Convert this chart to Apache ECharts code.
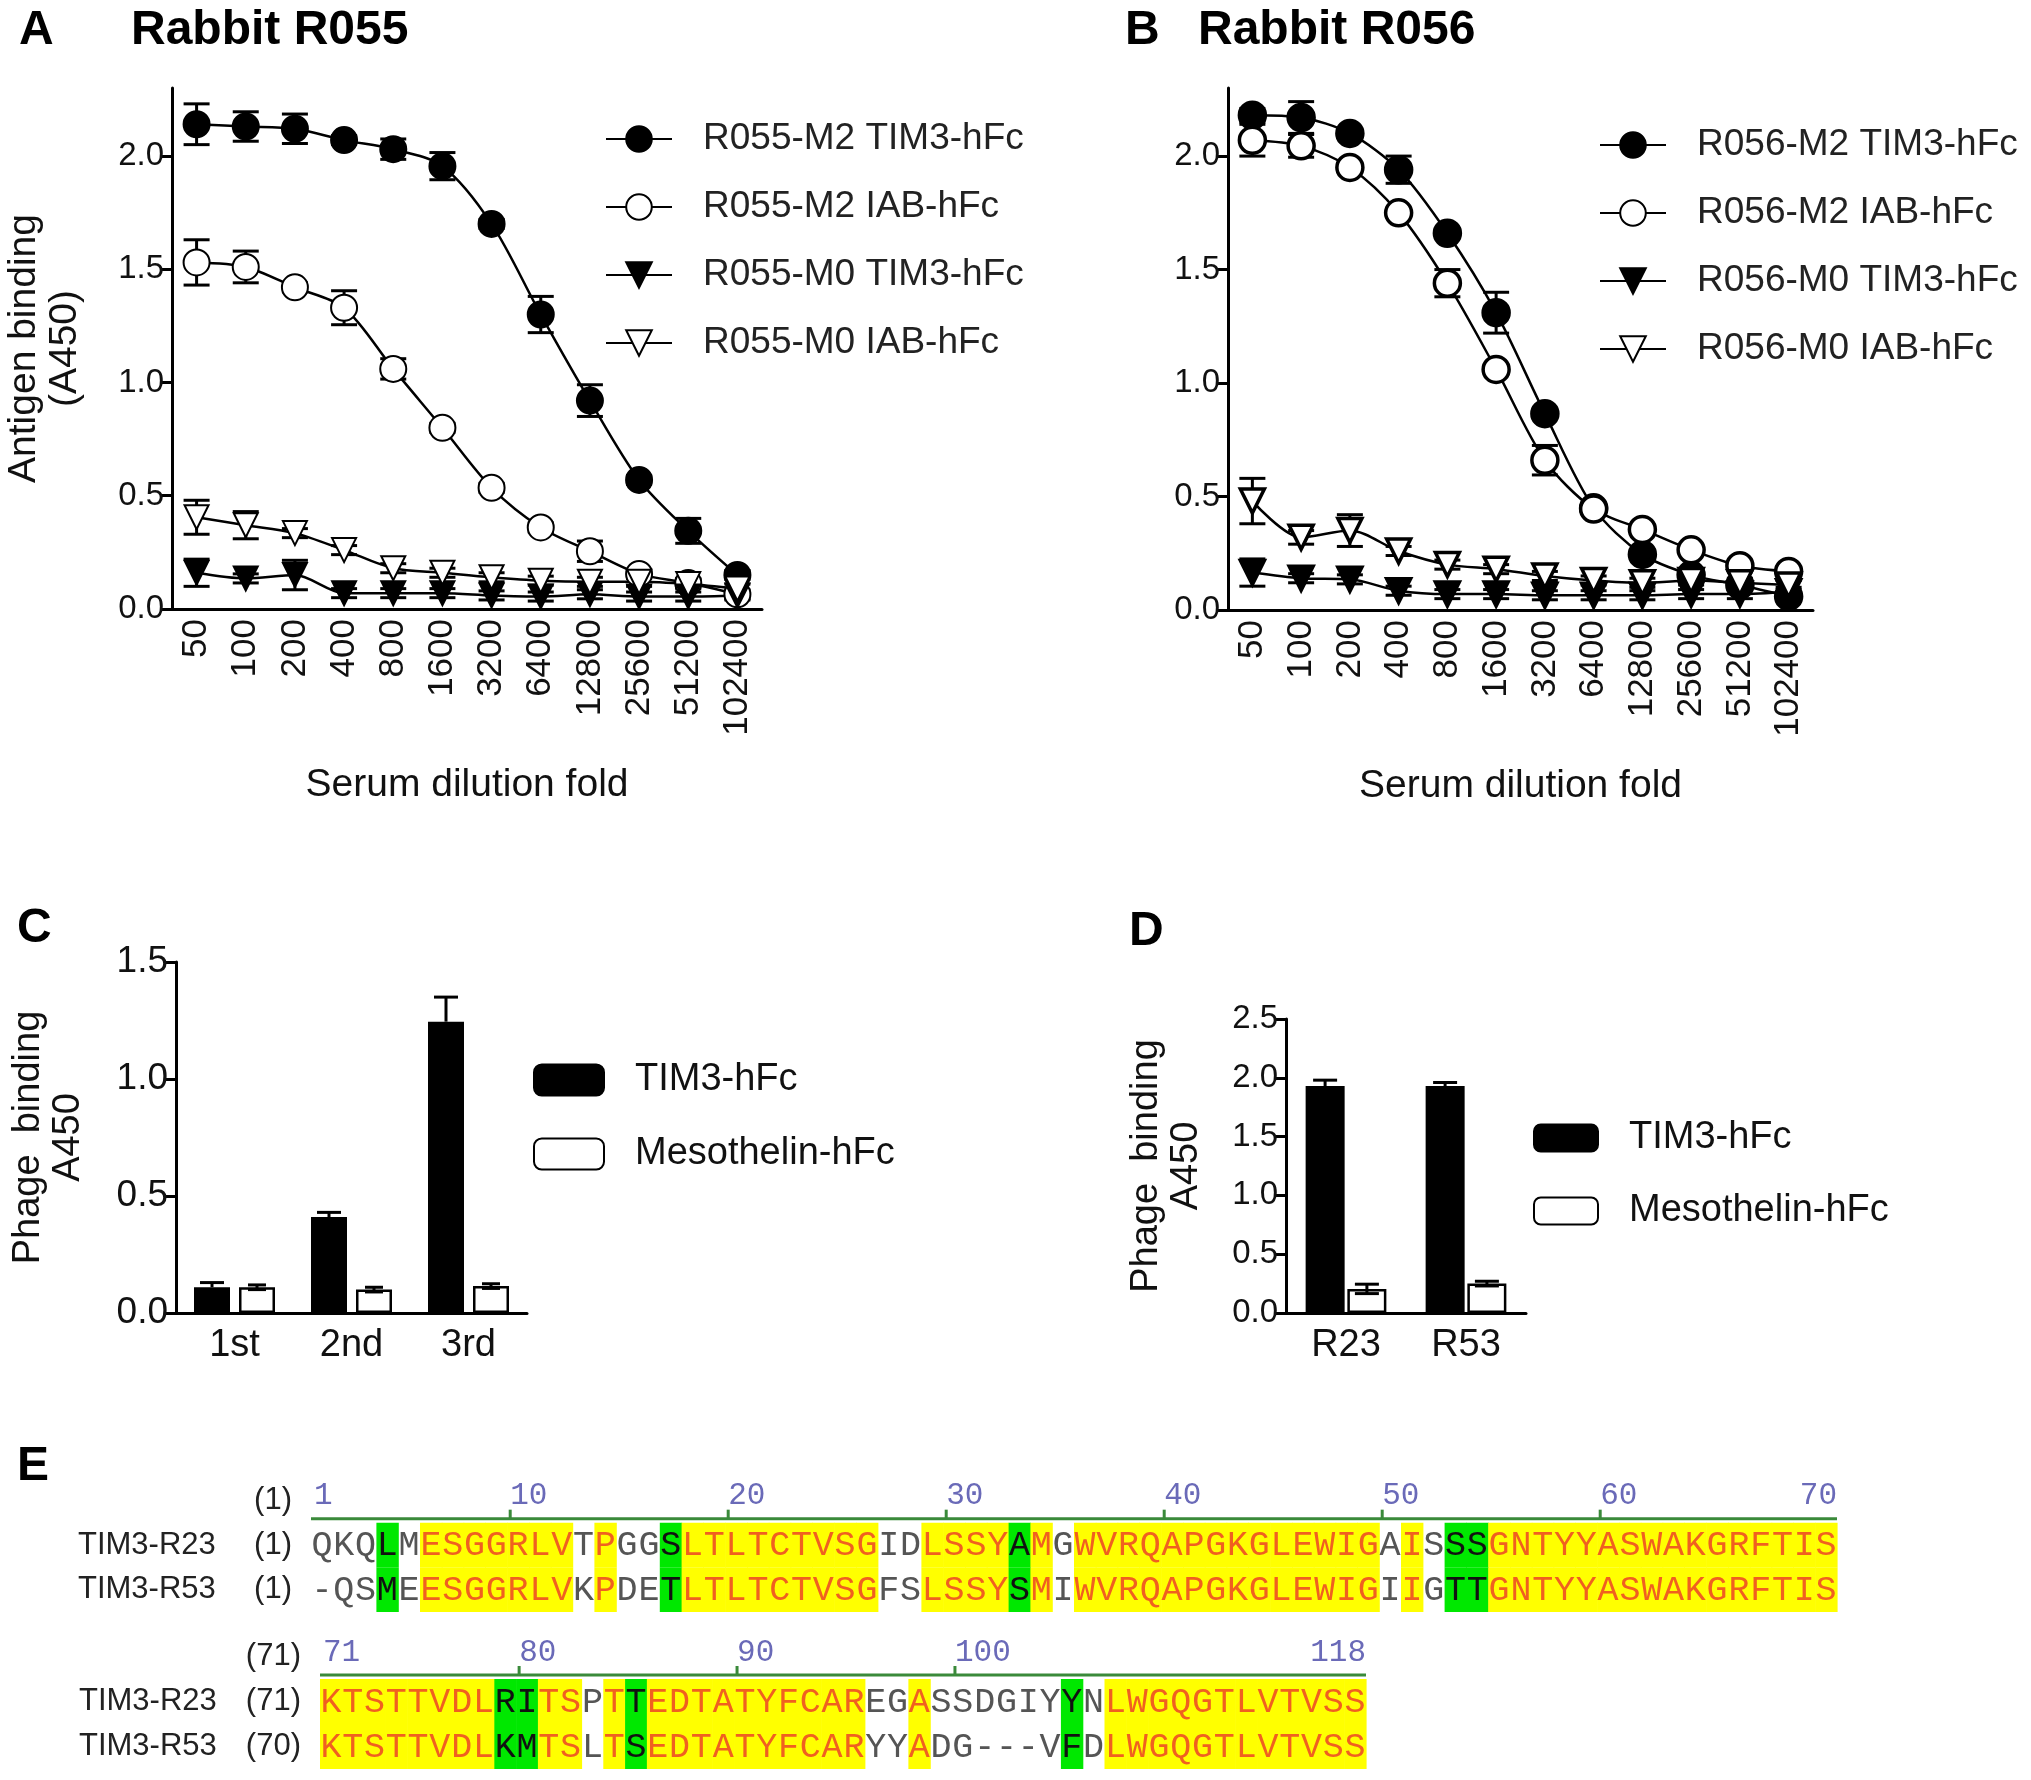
<!DOCTYPE html>
<html>
<head>
<meta charset="utf-8">
<script src="https://cdn.jsdelivr.net/npm/echarts@6/dist/echarts.min.js"></script>
<style>
  html, body { margin: 0; padding: 0; background: #fff; }
  #main { width: 2031px; height: 1780px; }
</style>
</head>
<body>
<div id="main"></div>
<script>
// dilution series (panels A, B)
var dilutions = ['50', '100', '200', '400', '800', '1600', '3200', '6400', '12800', '25600', '51200', '102400'];

var r055M2Tim3 = [2.14, 2.13, 2.12, 2.07, 2.03, 1.955, 1.70, 1.30, 0.92, 0.57, 0.345, 0.15];
var r055M2Tim3Err = [0.09, 0.065, 0.065, 0.02, 0.045, 0.06, 0.02, 0.08, 0.07, 0.02, 0.055, 0.02];
var r055M2Iab = [1.53, 1.51, 1.42, 1.33, 1.06, 0.80, 0.535, 0.36, 0.255, 0.155, 0.115, 0.065];
var r055M2IabErr = [0.1, 0.07, 0.02, 0.075, 0.045, 0.02, 0.02, 0.02, 0.045, 0.02, 0.02, 0.02];
var r055M0Tim3 = [0.16, 0.135, 0.15, 0.07, 0.07, 0.07, 0.06, 0.055, 0.065, 0.055, 0.055, 0.06];
var r055M0Tim3Err = [0.06, 0.02, 0.065, 0.02, 0.02, 0.02, 0.02, 0.02, 0.02, 0.02, 0.02, 0.02];
var r055M0Iab = [0.405, 0.37, 0.335, 0.26, 0.18, 0.16, 0.14, 0.125, 0.12, 0.12, 0.11, 0.09];
var r055M0IabErr = [0.075, 0.06, 0.02, 0.02, 0.02, 0.02, 0.02, 0.02, 0.02, 0.02, 0.02, 0.02];

var r056M2Tim3 = [2.18, 2.17, 2.10, 1.94, 1.66, 1.31, 0.865, 0.45, 0.245, 0.155, 0.11, 0.06];
var r056M2Tim3Err = [0.03, 0.07, 0.02, 0.06, 0.02, 0.09, 0.02, 0.02, 0.02, 0.02, 0.02, 0.02];
var r056M2Iab = [2.07, 2.045, 1.95, 1.75, 1.44, 1.06, 0.66, 0.445, 0.355, 0.265, 0.195, 0.17];
var r056M2IabErr = [0.07, 0.05, 0.02, 0.02, 0.06, 0.02, 0.065, 0.02, 0.02, 0.02, 0.02, 0.02];
var r056M0Tim3 = [0.165, 0.14, 0.135, 0.085, 0.07, 0.07, 0.065, 0.065, 0.065, 0.07, 0.07, 0.08];
var r056M0Tim3Err = [0.06, 0.02, 0.02, 0.02, 0.02, 0.02, 0.02, 0.02, 0.02, 0.02, 0.02, 0.02];
var r056M0Iab = [0.48, 0.32, 0.35, 0.26, 0.2, 0.18, 0.15, 0.13, 0.12, 0.13, 0.12, 0.11];
var r056M0IabErr = [0.1, 0.03, 0.07, 0.02, 0.02, 0.02, 0.02, 0.02, 0.02, 0.02, 0.02, 0.02];

// phage ELISA (panels C, D)
var rounds = ['1st', '2nd', '3rd'];
var roundTim3 = [0.11, 0.41, 1.245];
var roundTim3Err = [0.02, 0.02, 0.105];
var roundMeso = [0.11, 0.10, 0.115];
var roundMesoErr = [0.01, 0.01, 0.01];

var clones = ['R23', 'R53'];
var cloneTim3 = [1.93, 1.93];
var cloneTim3Err = [0.05, 0.03];
var cloneMeso = [0.205, 0.25];
var cloneMesoErr = [0.04, 0.02];

// alignment (panel E): i = identical, s = similar, n = none
var block1Names = ['TIM3-R23', 'TIM3-R53'];
var block1Starts = ['(1)', '(1)'];
var block1Seqs = [
  'QKQLMESGGRLVTPGGSLTLTCTVSGIDLSSYAMGWVRQAPGKGLEWIGAISSSGNTYYASWAKGRFTIS',
  '-QSMEESGGRLVKPDETLTLTCTVSGFSLSSYSMIWVRQAPGKGLEWIGIIGTTGNTYYASWAKGRFTIS'
];
var block1Class = ['nnnsn', 'iiiiiii', 'n', 'i', 'nn', 's', 'iiiiiiiii', 'nn', 'iiii', 's', 'i', 'n',
  'iiiiiiiiiiiiii', 'n', 'i', 'n', 'ss', 'iiiiiiiiiiiiiiii'].join('');
var block1Marks = [1, 10, 20, 30, 40, 50, 60, 70];

var block2Names = ['TIM3-R23', 'TIM3-R53'];
var block2Starts = ['(71)', '(70)'];
var block2Seqs = [
  'KTSTTVDLRITSPTTEDTATYFCAREGASSDGIYYNLWGQGTLVTVSS',
  'KTSTTVDLKMTSLTSEDTATYFCARYYADG---VFDLWGQGTLVTVSS'
];
var block2Class = ['iiiiiiii', 'ss', 'ii', 'n', 'i', 's', 'iiiiiiiiii', 'nn', 'i', 'nnnnnn', 's', 'n',
  'iiiiiiiiiiii'].join('');
var block2Marks = [71, 80, 90, 100, 118];

var FONT = "'Liberation Sans', Arial, sans-serif";
var MONO = "'Liberation Mono', 'DejaVu Sans Mono', monospace";

var chart = echarts.init(document.getElementById('main'));

function errBars(values, errs) {
  return values.map(function (v, i) { return [i, v, errs[i]]; });
}

function renderErr(offset, cap, upOnly) {
  return function (params, api) {
    var idx = api.value(0), v = api.value(1), e = api.value(2);
    var top = api.coord([idx, v + e]);
    var bot = api.coord([idx, upOnly ? v : v - e]);
    var x = top[0] + offset;
    var st = { stroke: '#000', lineWidth: 3 };
    var children = [
      { type: 'line', shape: { x1: x, y1: top[1], x2: x, y2: bot[1] }, style: st },
      { type: 'line', shape: { x1: x - cap, y1: top[1], x2: x + cap, y2: top[1] }, style: st }
    ];
    if (!upOnly) {
      children.push({ type: 'line', shape: { x1: x - cap, y1: bot[1], x2: x + cap, y2: bot[1] }, style: st });
    }
    return { type: 'group', children: children };
  };
}

var triDown = 'path://M0,0 L20,0 L10,18 Z';

function lineSeries(name, data, symbol, fill, idx, borderW) {
  return {
    name: name, type: 'line', xAxisIndex: idx, yAxisIndex: idx,
    data: data, smooth: 0.3, symbol: symbol, symbolSize: symbol === 'circle' ? 26 : 24,
    lineStyle: { color: '#000', width: 2.5 },
    itemStyle: { color: fill, borderColor: '#000', borderWidth: borderW },
    z: 5
  };
}

function errSeries(values, errs, idx) {
  return {
    type: 'custom', xAxisIndex: idx, yAxisIndex: idx, silent: true, z: 3,
    data: errBars(values, errs), renderItem: renderErr(0, 13, false)
  };
}

function barSeries(name, data, fill, idx, width, gap) {
  return {
    name: name, type: 'bar', xAxisIndex: idx, yAxisIndex: idx, data: data,
    barWidth: width, barGap: gap,
    itemStyle: { color: fill, borderColor: '#000', borderWidth: 2.5 }
  };
}

// alignment helpers
function residueData(seqs) {
  var out = [];
  seqs.forEach(function (s, r) {
    for (var c = 0; c < s.length; c++) out.push([c + 1, r + 1]);
  });
  return out;
}

function renderResidues(seqs, cls) {
  return function (params, api) {
    var col = api.value(0), row = api.value(1);
    var ch = seqs[row - 1].charAt(col - 1);
    var k = cls.charAt(col - 1);
    var c = api.coord([col - 1, row]);
    var sz = api.size([1, 1]);
    var cw = sz[0], bh = sz[1];
    var fill = k === 'i' ? '#ffff00' : (k === 's' ? '#00e800' : null);
    var color = k === 'i' ? '#f06020' : (k === 's' ? '#111' : '#555');
    var children = [];
    if (fill) {
      children.push({ type: 'rect', shape: { x: c[0], y: c[1] - bh / 2, width: cw + 0.6, height: bh }, style: { fill: fill } });
    }
    children.push({
      type: 'text', x: c[0] + cw / 2, y: c[1] + 1,
      style: { text: ch, fill: color, font: '35px ' + MONO, align: 'center', verticalAlign: 'middle' }
    });
    return { type: 'group', children: children };
  };
}

function renderRuler(marks) {
  var first = marks[0], last = marks[marks.length - 1];
  var span = last - first + 1;
  return function (params, api) {
    var m = marks[params.dataIndex];
    var pos = m - first;
    var c = api.coord([pos, 0]);
    var bh = api.size([1, 1])[1];
    var lineY = c[1] + bh / 2 - 4;
    var st = { stroke: '#3a8a3a', lineWidth: 3 };
    var children = [];
    if (params.dataIndex === 0) {
      var a = api.coord([0, 0]), b = api.coord([span, 0]);
      children.push({ type: 'line', shape: { x1: a[0], y1: lineY, x2: b[0], y2: lineY }, style: st });
    }
    var isLast = params.dataIndex === marks.length - 1;
    var x = isLast ? api.coord([span, 0])[0] : c[0] + 3;
    if (params.dataIndex > 0 && !isLast) {
      children.push({ type: 'line', shape: { x1: x, y1: lineY, x2: x, y2: lineY - 9 }, style: st });
    }
    children.push({
      type: 'text', x: x, y: lineY - 7,
      style: { text: String(m), fill: '#6a6ab8', font: '31px ' + MONO, align: isLast ? 'right' : 'left', verticalAlign: 'bottom' }
    });
    return { type: 'group', children: children };
  };
}

function seqAxis(gridIdx, header, names, starts, numWidth) {
  return {
    type: 'category', gridIndex: gridIdx, inverse: true, data: [header].concat(names),
    axisLine: { show: false }, axisTick: { show: false },
    axisLabel: {
      margin: 19,
      formatter: function (v, i) {
        if (i === 0) return '{b|' + v + '}';
        return '{a|' + v + '}{b|' + starts[i - 1] + '}';
      },
      rich: {
        a: { fontSize: 31, fontFamily: FONT, color: '#222', width: 136, align: 'left' },
        b: { fontSize: 31, fontFamily: FONT, color: '#222', width: numWidth, align: 'right' }
      }
    }
  };
}

var labelFmt = function (v) { return v.toFixed(1); };

function dilutionX(idx) {
  return {
    type: 'category', gridIndex: idx, data: dilutions, boundaryGap: true,
    axisLine: { lineStyle: { color: '#000', width: 3 } },
    axisTick: { show: false },
    axisLabel: { rotate: 90, color: '#111', fontSize: 35, fontFamily: FONT, margin: 10 },
    name: 'Serum dilution fold', nameLocation: 'middle', nameGap: 157,
    nameTextStyle: { fontSize: 39, fontFamily: FONT, color: '#111' }
  };
}

function valueY(idx, max, name, gap, size, nameSize) {
  return {
    type: 'value', gridIndex: idx, min: 0, max: max, interval: 0.5,
    splitLine: { show: false },
    axisLine: { show: true, lineStyle: { color: '#000', width: 3 } },
    axisTick: { show: true, length: 10, lineStyle: { color: '#000', width: 3 } },
    axisLabel: { formatter: labelFmt, color: '#111', fontSize: size, fontFamily: FONT, showMaxLabel: max % 0.5 === 0, margin: 8 },
    name: name, nameLocation: 'middle', nameRotate: 90, nameGap: gap,
    nameTextStyle: { fontSize: nameSize, fontFamily: FONT, color: '#111', lineHeight: nameSize * 1.05 }
  };
}

var titleStyle = { fontSize: 48, fontWeight: 'bold', color: '#000' };

var option = {
  backgroundColor: '#fff',
  animation: false,
  textStyle: { fontFamily: FONT },
  title: [
    { text: 'A', left: 14, top: 2, textStyle: titleStyle },
    { text: 'Rabbit R055', left: 126, top: 2, textStyle: titleStyle },
    { text: 'B', left: 1120, top: 2, textStyle: titleStyle },
    { text: 'Rabbit R056', left: 1193, top: 2, textStyle: titleStyle },
    { text: 'C', left: 12, top: 900, textStyle: titleStyle },
    { text: 'D', left: 1124, top: 903, textStyle: titleStyle },
    { text: 'E', left: 12, top: 1438, textStyle: titleStyle }
  ],
  legend: [
    {
      orient: 'vertical', left: 600, top: 113, itemWidth: 66, itemHeight: 32, itemGap: 26,
      data: ['R055-M2 TIM3-hFc', 'R055-M2 IAB-hFc', 'R055-M0 TIM3-hFc', 'R055-M0 IAB-hFc'],
      textStyle: { fontSize: 37, color: '#222', lineHeight: 42, padding: [0, 0, 0, 26] }
    },
    {
      orient: 'vertical', left: 1594, top: 119, itemWidth: 66, itemHeight: 32, itemGap: 26,
      data: ['R056-M2 TIM3-hFc', 'R056-M2 IAB-hFc', 'R056-M0 TIM3-hFc', 'R056-M0 IAB-hFc'],
      textStyle: { fontSize: 37, color: '#222', lineHeight: 42, padding: [0, 0, 0, 26] }
    },
    {
      orient: 'vertical', left: 528, top: 1054, itemWidth: 70, itemHeight: 31, itemGap: 32, icon: 'roundRect',
      data: ['TIM3-hFc', 'Mesothelin-hFc'],
      textStyle: { fontSize: 38, color: '#111', lineHeight: 42, padding: [0, 0, 0, 26] }
    },
    {
      orient: 'vertical', left: 1528, top: 1112, itemWidth: 64, itemHeight: 27, itemGap: 31, icon: 'roundRect',
      data: ['TIM3-hFc', 'Mesothelin-hFc'],
      textStyle: { fontSize: 38, color: '#111', lineHeight: 42, padding: [0, 0, 0, 26] }
    }
  ],
  grid: [
    { left: 172, top: 88, width: 590, height: 521 },
    { left: 1228, top: 88, width: 585, height: 522 },
    { left: 176, top: 962, width: 351, height: 351 },
    { left: 1286, top: 1019, width: 240, height: 294 },
    { left: 311, top: 1478, width: 1526, height: 134 },
    { left: 320, top: 1634, width: 1046, height: 135 }
  ],
  xAxis: [
    dilutionX(0),
    dilutionX(1),
    {
      type: 'category', gridIndex: 2, data: rounds,
      axisLine: { lineStyle: { color: '#000', width: 3 } },
      axisTick: { alignWithLabel: true, length: 14, lineStyle: { color: '#000', width: 3 } },
      axisLabel: { color: '#111', fontSize: 38, margin: 14 }
    },
    {
      type: 'category', gridIndex: 3, data: clones,
      axisLine: { lineStyle: { color: '#000', width: 3 } },
      axisTick: { alignWithLabel: true, length: 14, lineStyle: { color: '#000', width: 3 } },
      axisLabel: { color: '#111', fontSize: 38, margin: 14 }
    },
    { type: 'value', gridIndex: 4, min: 0, max: block1Class.length, show: false },
    { type: 'value', gridIndex: 5, min: 0, max: block2Class.length, show: false }
  ],
  yAxis: [
    valueY(0, 2.3, 'Antigen binding\n(A450)', 86, 33, 39),
    valueY(1, 2.3, '', 90, 33, 39),
    valueY(2, 1.5, 'Phage  binding\nA450', 88, 37, 38),
    valueY(3, 2.5, 'Phage  binding\nA450', 80, 33, 38),
    seqAxis(4, '(1)', block1Names, block1Starts, 78),
    seqAxis(5, '(71)', block2Names, block2Starts, 86)
  ],
  series: [
    errSeries(r055M2Tim3, r055M2Tim3Err, 0),
    errSeries(r055M2Iab, r055M2IabErr, 0),
    errSeries(r055M0Tim3, r055M0Tim3Err, 0),
    errSeries(r055M0Iab, r055M0IabErr, 0),
    lineSeries('R055-M2 TIM3-hFc', r055M2Tim3, 'circle', '#000', 0, 2),
    lineSeries('R055-M2 IAB-hFc', r055M2Iab, 'circle', '#fff', 0, 2),
    lineSeries('R055-M0 TIM3-hFc', r055M0Tim3, triDown, '#000', 0, 2),
    lineSeries('R055-M0 IAB-hFc', r055M0Iab, triDown, '#fff', 0, 2),

    errSeries(r056M2Tim3, r056M2Tim3Err, 1),
    errSeries(r056M2Iab, r056M2IabErr, 1),
    errSeries(r056M0Tim3, r056M0Tim3Err, 1),
    errSeries(r056M0Iab, r056M0IabErr, 1),
    lineSeries('R056-M2 TIM3-hFc', r056M2Tim3, 'circle', '#000', 1, 3.5),
    lineSeries('R056-M2 IAB-hFc', r056M2Iab, 'circle', '#fff', 1, 3.5),
    lineSeries('R056-M0 TIM3-hFc', r056M0Tim3, triDown, '#000', 1, 3.5),
    lineSeries('R056-M0 IAB-hFc', r056M0Iab, triDown, '#fff', 1, 3.5),

    barSeries('TIM3-hFc', roundTim3, '#000', 2, 36, '25%'),
    barSeries('Mesothelin-hFc', roundMeso, '#fff', 2, 36, '25%'),
    { type: 'custom', xAxisIndex: 2, yAxisIndex: 2, silent: true, z: 4, data: errBars(roundTim3, roundTim3Err), renderItem: renderErr(-22.5, 12, true) },
    { type: 'custom', xAxisIndex: 2, yAxisIndex: 2, silent: true, z: 4, data: errBars(roundMeso, roundMesoErr), renderItem: renderErr(22.5, 9, false) },

    barSeries('TIM3-hFc', cloneTim3, '#000', 3, 39, '7%'),
    barSeries('Mesothelin-hFc', cloneMeso, '#fff', 3, 39, '7%'),
    { type: 'custom', xAxisIndex: 3, yAxisIndex: 3, silent: true, z: 4, data: errBars(cloneTim3, cloneTim3Err), renderItem: renderErr(-20.9, 12, false) },
    { type: 'custom', xAxisIndex: 3, yAxisIndex: 3, silent: true, z: 4, data: errBars(cloneMeso, cloneMesoErr), renderItem: renderErr(20.9, 12, false) },

    { type: 'custom', xAxisIndex: 4, yAxisIndex: 4, silent: true, data: residueData(block1Seqs), renderItem: renderResidues(block1Seqs, block1Class) },
    { type: 'custom', xAxisIndex: 4, yAxisIndex: 4, silent: true, data: block1Marks.map(function (m) { return [m - block1Marks[0], 0]; }), renderItem: renderRuler(block1Marks) },
    { type: 'custom', xAxisIndex: 5, yAxisIndex: 5, silent: true, data: residueData(block2Seqs), renderItem: renderResidues(block2Seqs, block2Class) },
    { type: 'custom', xAxisIndex: 5, yAxisIndex: 5, silent: true, data: block2Marks.map(function (m) { return [m - block2Marks[0], 0]; }), renderItem: renderRuler(block2Marks) }
  ]
};

chart.setOption(option);
</script>
</body>
</html>
